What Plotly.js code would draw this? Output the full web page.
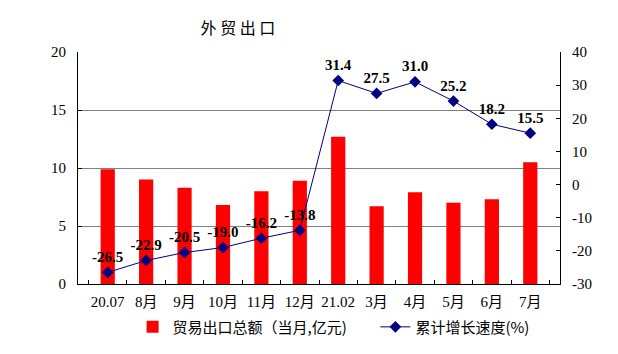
<!DOCTYPE html>
<html>
<head>
<meta charset="utf-8">
<script src="https://cdn.plot.ly/plotly-3.0.1.min.js"></script>
<style>
html,body{margin:0;padding:0;background:#fff;}
#chart{width:618px;height:354px;outline:1px solid #000;outline-offset:-1px;}
</style>
</head>
<body>
<div id="chart"></div>
<script>
const categories = ["20.07","8月","9月","10月","11月","12月","21.02","3月","4月","5月","6月","7月"];
const exportValues = [9.9, 9.0, 8.3, 6.8, 8.0, 8.9, 12.7, 6.7, 7.9, 7.0, 7.3, 10.5];
const growthValues = [-26.5, -22.9, -20.5, -19.0, -16.2, -13.8, 31.4, 27.5, 31.0, 25.2, 18.2, 15.5];
const leftTicks = [0, 5, 10, 15, 20];
const rightTicks = [-30, -20, -10, 0, 10, 20, 30, 40];

const serif = "Liberation Serif, 'Times New Roman', 'Noto Sans CJK SC', serif";
const cjk = "'Noto Sans CJK SC', sans-serif";
const pad = "\u00a0".repeat(7);

const traces = [
  {
    type: "bar",
    x: categories,
    y: exportValues,
    name: "贸易出口总额（当月,亿元)" + pad,
    marker: {color: "#FF0000"},
    width: 0.37,
    yaxis: "y",
    hoverinfo: "x+y"
  },
  {
    type: "scatter",
    mode: "lines+markers+text",
    x: categories,
    y: growthValues,
    name: "累计增长速度(%)",
    yaxis: "y2",
    line: {color: "#000080", width: 1},
    marker: {symbol: "diamond", size: 9, color: "#000080"},
    text: growthValues.map(v => v.toFixed(1)),
    textposition: "top center",
    textfont: {family: serif, size: 15, color: "#000", weight: "bold"},
    cliponaxis: false
  }
];

const layout = {
  width: 618,
  height: 354,
  margin: {l: 78, r: 58, t: 52, b: 70},
  paper_bgcolor: "#fff",
  plot_bgcolor: "#fff",
  showlegend: true,
  title: {
    text: "外 贸 出 口",
    font: {family: cjk, size: 16, color: "#000"},
    x: 0.385, xref: "container", xanchor: "center",
    y: 0.92, yref: "container", yanchor: "middle"
  },
  xaxis: {
    type: "category",
    categoryorder: "array",
    categoryarray: categories,
    tickson: "boundaries",
    ticks: "inside",
    ticklen: 4,
    tickcolor: "#000",
    tickangle: 0,
    showline: true,
    linecolor: "#000",
    linewidth: 1,
    showgrid: false,
    automargin: false,
    tickfont: {family: serif, size: 15, color: "#000"},
    ticklabelstandoff: 4,
    fixedrange: true
  },
  yaxis: {
    range: [0, 20],
    tickvals: leftTicks,
    ticktext: leftTicks.map(String),
    showline: true,
    linecolor: "#000",
    showgrid: true,
    gridcolor: "#808080",
    gridwidth: 1,
    zeroline: false,
    automargin: false,
    ticks: "inside",
    ticklen: 4,
    tickcolor: "#000",
    tickfont: {family: serif, size: 15, color: "#000"},
    ticklabelstandoff: 8,
    fixedrange: true
  },
  yaxis2: {
    overlaying: "y",
    side: "right",
    range: [-30, 40],
    tickvals: rightTicks,
    ticktext: rightTicks.map(String),
    showline: true,
    linecolor: "#000",
    showgrid: false,
    zeroline: false,
    automargin: false,
    ticks: "inside",
    ticklen: 4,
    tickcolor: "#000",
    tickfont: {family: serif, size: 15, color: "#000"},
    ticklabelstandoff: 8,
    fixedrange: true
  },
  legend: {
    orientation: "h",
    xref: "container",
    x: 0.2146, xanchor: "left",
    yref: "container",
    y: 0.076, yanchor: "middle",
    font: {family: cjk, size: 15, color: "#000"},
    itemwidth: 30,
    bgcolor: "rgba(0,0,0,0)"
  },
  bargap: 0.6
};

Plotly.newPlot("chart", traces, layout, {displayModeBar: false, staticPlot: true});
</script>
</body>
</html>
